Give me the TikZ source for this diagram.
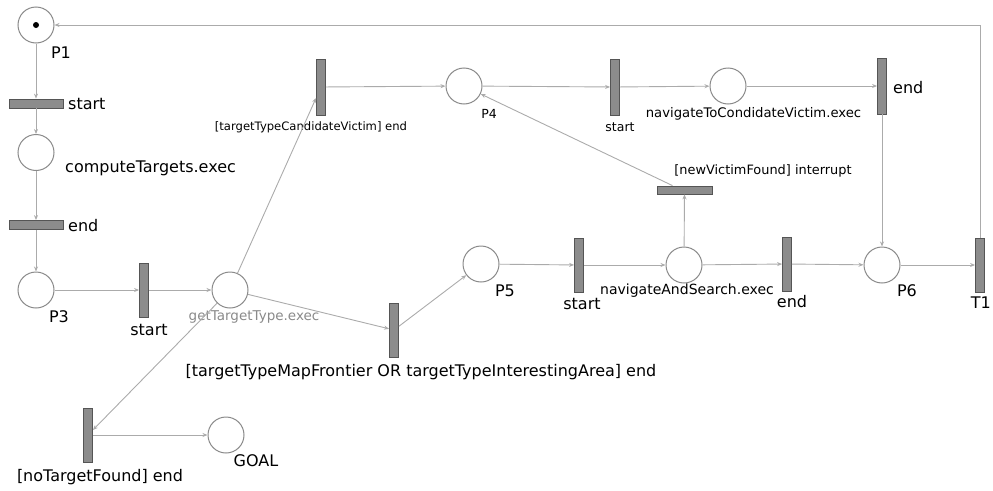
\documentclass[tikz,border=0pt]{standalone}
\usepackage{fontspec}
\setmainfont{DejaVu Sans}
\usetikzlibrary{arrows.meta}
\definecolor{placecol}{HTML}{8A8A8A}
\definecolor{trfill}{HTML}{8C8C8C}
\definecolor{trborder}{HTML}{555555}
\definecolor{arccol}{HTML}{ABABAB}
\definecolor{greytext}{HTML}{8A8A8A}
\begin{document}
\begin{tikzpicture}[x=1pt,y=-1pt,
  place/.style={circle,draw=placecol,line width=1pt,fill=white,minimum size=36pt,inner sep=0pt},
  vtr/.style={rectangle,draw=trborder,fill=trfill,line width=0.8pt,minimum width=9pt,minimum height=54pt,inner sep=0pt},
  htr/.style={rectangle,draw=trborder,fill=trfill,line width=0.8pt,minimum width=54pt,minimum height=9pt,inner sep=0pt},
  arc/.style={draw=arccol,line width=0.9pt,-{Stealth[length=5pt,width=4pt]}},
  lblL/.style={font=\fontsize{16}{19}\selectfont,inner sep=0pt},
  lblM/.style={font=\fontsize{14}{17}\selectfont,inner sep=0pt},
  lblS/.style={font=\fontsize{12.5}{15}\selectfont,inner sep=0pt},
  tokenstyle/.style={circle,fill=black,minimum size=6pt,inner sep=0pt}]
\useasboundingbox (0,0) rectangle (993,490);
% places
\node[place] (p1) at (36,25) {};
\node[tokenstyle] (tok) at (p1) {};
\node[place] (cte) at (36,152.5) {};
\node[place] (p3) at (36,290) {};
\node[place] (gtt) at (230,290) {};
\node[place] (p4) at (464,86) {};
\node[place] (nav) at (728,86) {};
\node[place] (p5) at (481,264) {};
\node[place] (nas) at (684,265) {};
\node[place] (p6) at (882,265) {};
\node[place] (goal) at (226,435) {};
% transitions
\node[htr] (t1start) at (36,103.5) {};
\node[htr] (t1end) at (36,225) {};
\node[vtr] (t3start) at (144,290) {};
\node[vtr,minimum height=56pt] (tcv) at (321,87) {};
\node[vtr,minimum height=56pt] (t4start) at (615,87) {};
\node[vtr,minimum height=56pt] (tend) at (882,86) {};
\node[vtr] (tmf) at (394,330) {};
\node[vtr] (t5start) at (579,265) {};
\node[vtr] (t5end) at (787,264) {};
\node[vtr] (tT1) at (980,265) {};
\node[htr,minimum width=55pt,minimum height=8pt] (intr) at (684.5,190) {};
\node[vtr] (tnt) at (88,435) {};
% labels
\node[lblL] (lp1) at (61,53) {P1};
\node[lblL,anchor=west] (lstart1) at (68,104) {start};
\node[lblL,anchor=west] (lcte) at (65,168) {computeTargets.exec};
\node[lblL,anchor=west] (lend1) at (68,226) {end};
\node[lblL] (lp3) at (59,317) {P3};
\node[lblL] (lstart3) at (149,330) {start};
\node[lblS,font=\fontsize{13.5}{16}\selectfont,text=greytext] (lgtt) at (254,317) {getTargetType.exec};
\node[lblS,font=\fontsize{11.6}{14}\selectfont] (ltcv) at (311,127) {[targetTypeCandidateVictim] end};
\node[lblS] (lp4) at (489,114) {P4};
\node[lblS] (lstart4) at (620,127) {start};
\node[lblM,font=\fontsize{13.2}{16}\selectfont] (lnav) at (753.5,114) {navigateToCondidateVictim.exec};
\node[lblL,anchor=west] (lendT) at (893,88) {end};
\node[lblS,font=\fontsize{12.9}{15}\selectfont] (lintr) at (763,171) {[newVictimFound] interrupt};
\node[lblL] (lmf) at (421,372) {[targetTypeMapFrontier OR targetTypeInterestingArea] end};
\node[lblL] (lp5) at (505,291) {P5};
\node[lblL] (lstart5) at (582,304) {start};
\node[lblM] (lnas) at (687,291) {navigateAndSearch.exec};
\node[lblL] (lend5) at (792,302) {end};
\node[lblL] (lp6) at (907,291) {P6};
\node[lblL,anchor=east] (lT1) at (991,303) {T1};
\node[lblL] (lnt) at (100,477) {[noTargetFound] end};
\node[lblL] (lgoal) at (256,461) {GOAL};
% arcs
\draw[arc] (p1) -- (t1start);
\draw[arc] (t1start) -- (cte);
\draw[arc] (cte) -- (t1end);
\draw[arc] (t1end) -- (p3);
\draw[arc] (p3) -- (t3start);
\draw[arc] (t3start) -- (gtt);
\draw[arc] (gtt) -- (tcv);
\draw[arc] (tcv) -- (p4);
\draw[arc] (p4) -- (t4start);
\draw[arc] (t4start) -- (nav);
\draw[arc] (nav) -- (tend);
\draw[arc] (tend) -- (p6);
\draw[arc] (gtt) -- (tmf);
\draw[arc] (tmf) -- (p5);
\draw[arc] (p5) -- (t5start);
\draw[arc] (t5start) -- (nas);
\draw[arc] (nas) -- (t5end);
\draw[arc] (t5end) -- (p6);
\draw[arc] (p6) -- (tT1);
\draw[arc] (tT1.north) |- (p1);
\draw[arc] (nas) -- (intr);
\draw[arc] ([xshift=-12pt]intr.north) -- (p4);
\draw[arc] (gtt) -- (tnt);
\draw[arc] (tnt) -- (goal);
\end{tikzpicture}
\end{document}
